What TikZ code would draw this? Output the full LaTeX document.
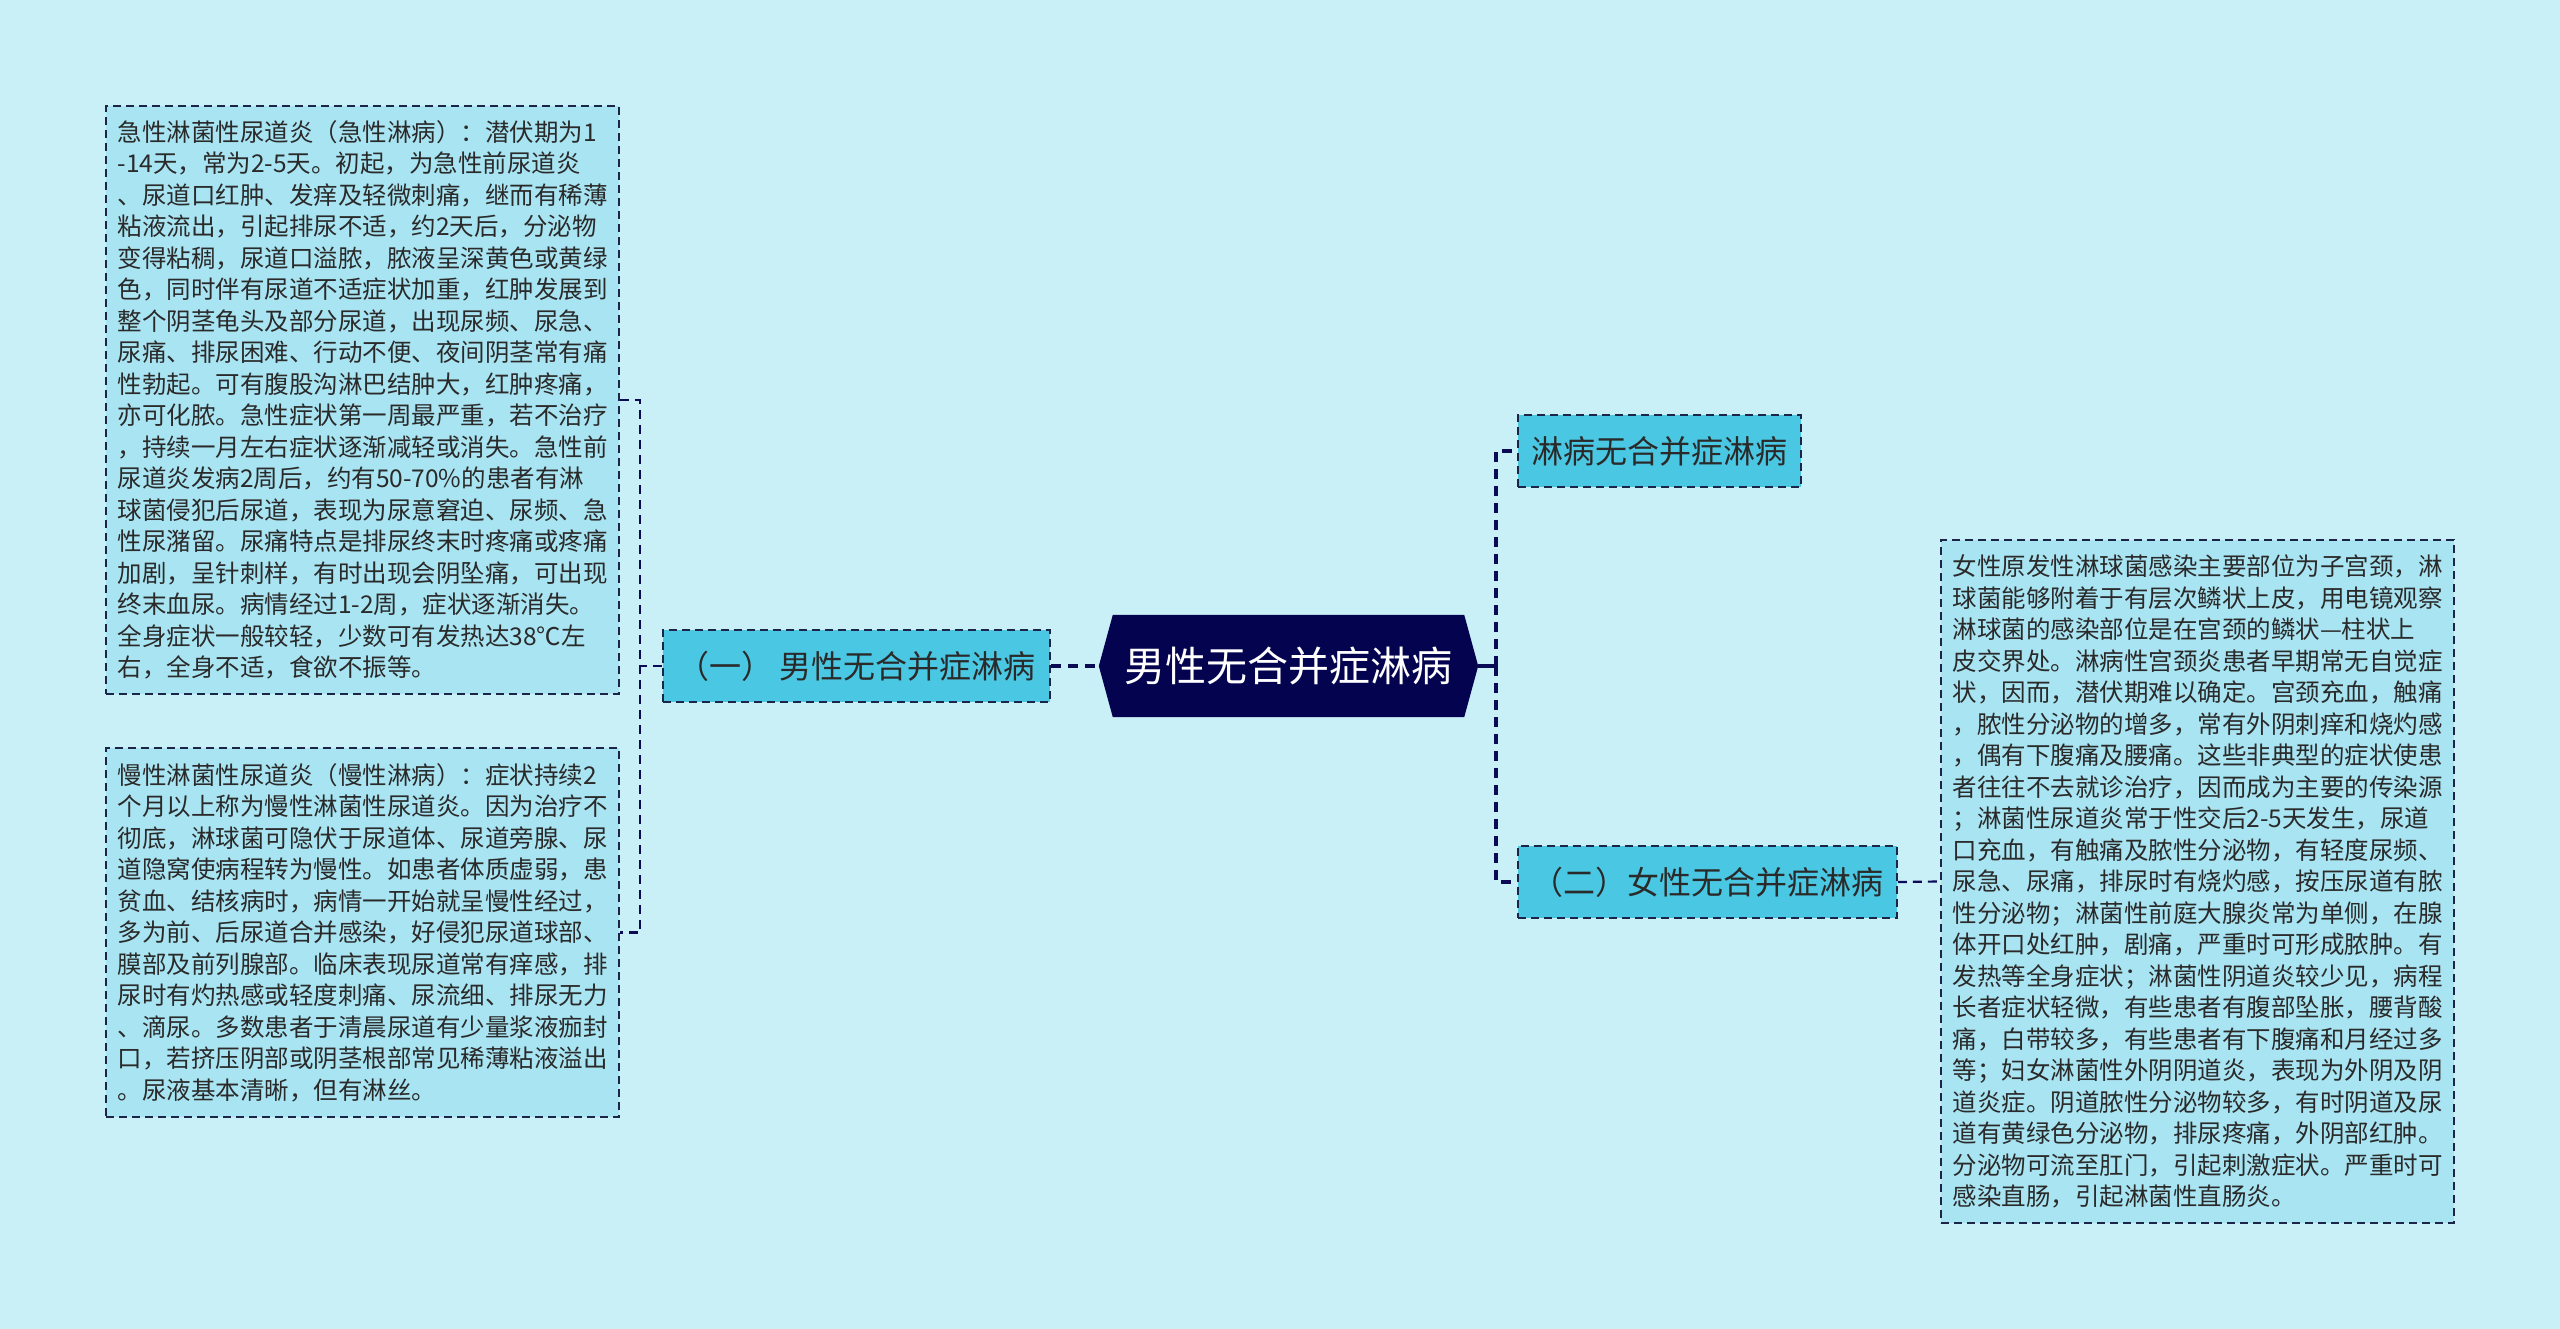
\documentclass[tikz,border=0pt]{standalone}
\usepackage{fontspec}
\setmainfont{Noto Sans CJK SC}
\usetikzlibrary{calc}
\pgfdeclarelayer{bg}
\pgfsetlayers{bg,main}
\definecolor{bgc}{HTML}{C9EFF7}
\definecolor{boxfill}{HTML}{A9E4F2}
\definecolor{nodefill}{HTML}{4AC8E3}
\definecolor{navy}{HTML}{03034F}
\definecolor{edgec}{HTML}{0B0B55}
\definecolor{bordc}{HTML}{1A2548}
\definecolor{txt}{HTML}{2A2A2A}
\tikzset{
  textbox/.style={draw=bordc, fill=boxfill, line width=1.8pt, dash pattern=on 8pt off 5pt,
    text width=490pt, inner xsep=11.5pt, inner ysep=0pt, align=left,
    font=\fontsize{24.5pt}{31.5pt}\selectfont, text=txt, minimum width=513pt},
  branch/.style={draw=bordc, fill=nodefill, line width=1.8pt, dash pattern=on 8pt off 5pt,
    inner sep=0pt, font=\fontsize{32pt}{38pt}\selectfont, text=txt, minimum height=72pt},
  rootnode/.style={inner sep=0pt, text=white, font=\fontsize{41pt}{48pt}\selectfont,
    minimum width=379pt, minimum height=102pt},
  link/.style={draw=edgec, line width=2.2pt, dash pattern=on 9pt off 6pt},
  thicklink/.style={draw=edgec, line width=3.2pt, dash pattern=on 10pt off 7pt},
  solidlink/.style={draw=edgec, line width=3.2pt},
}
\begin{document}
\begin{tikzpicture}[x=1pt,y=-1pt]
\begin{pgfonlayer}{bg}
\fill[bgc] (0,0) rectangle (2560,1329);
\end{pgfonlayer}
\useasboundingbox (0,0) rectangle (2560,1329);

\node[textbox, minimum height=588pt] (box1) at (362.5,400) {%
急性淋菌性尿道炎（急性淋病）：潜伏期为1\\
-14天，常为2-5天。初起，为急性前尿道炎\\
、尿道口红肿、发痒及轻微刺痛，继而有稀薄\\
粘液流出，引起排尿不适，约2天后，分泌物\\
变得粘稠，尿道口溢脓，脓液呈深黄色或黄绿\\
色，同时伴有尿道不适症状加重，红肿发展到\\
整个阴茎龟头及部分尿道，出现尿频、尿急、\\
尿痛、排尿困难、行动不便、夜间阴茎常有痛\\
性勃起。可有腹股沟淋巴结肿大，红肿疼痛，\\
亦可化脓。急性症状第一周最严重，若不治疗\\
，持续一月左右症状逐渐减轻或消失。急性前\\
尿道炎发病2周后，约有50-70\%的患者有淋\\
球菌侵犯后尿道，表现为尿意窘迫、尿频、急\\
性尿潴留。尿痛特点是排尿终末时疼痛或疼痛\\
加剧，呈针刺样，有时出现会阴坠痛，可出现\\
终末血尿。病情经过1-2周，症状逐渐消失。\\
全身症状一般较轻，少数可有发热达38℃左\\
右，全身不适，食欲不振等。};

\node[textbox, minimum height=369pt] (box2) at (362.5,932.5) {%
慢性淋菌性尿道炎（慢性淋病）：症状持续2\\
个月以上称为慢性淋菌性尿道炎。因为治疗不\\
彻底，淋球菌可隐伏于尿道体、尿道旁腺、尿\\
道隐窝使病程转为慢性。如患者体质虚弱，患\\
贫血、结核病时，病情一开始就呈慢性经过，\\
多为前、后尿道合并感染，好侵犯尿道球部、\\
膜部及前列腺部。临床表现尿道常有痒感，排\\
尿时有灼热感或轻度刺痛、尿流细、排尿无力\\
、滴尿。多数患者于清晨尿道有少量浆液痂封\\
口，若挤压阴部或阴茎根部常见稀薄粘液溢出\\
。尿液基本清晰，但有淋丝。};

\node[branch, minimum width=387pt] (male) at (856.5,666) {（一）\hspace{6pt}男性无合并症淋病};
\node[rootnode] (root) at (1288.5,666) {男性无合并症淋病};
\node[branch, minimum width=283pt] (n1) at (1659.5,451) {淋病无合并症淋病};
\node[branch, minimum width=379pt] (n2) at (1707.5,882) {（二）女性无合并症淋病};

\node[textbox, minimum height=683pt] (box3) at (2197.5,881.5) {%
女性原发性淋球菌感染主要部位为子宫颈，淋\\
球菌能够附着于有层次鳞状上皮，用电镜观察\\
淋球菌的感染部位是在宫颈的鳞状—柱状上\\
皮交界处。淋病性宫颈炎患者早期常无自觉症\\
状，因而，潜伏期难以确定。宫颈充血，触痛\\
，脓性分泌物的增多，常有外阴刺痒和烧灼感\\
，偶有下腹痛及腰痛。这些非典型的症状使患\\
者往往不去就诊治疗，因而成为主要的传染源\\
；淋菌性尿道炎常于性交后2-5天发生，尿道\\
口充血，有触痛及脓性分泌物，有轻度尿频、\\
尿急、尿痛，排尿时有烧灼感，按压尿道有脓\\
性分泌物；淋菌性前庭大腺炎常为单侧，在腺\\
体开口处红肿，剧痛，严重时可形成脓肿。有\\
发热等全身症状；淋菌性阴道炎较少见，病程\\
长者症状轻微，有些患者有腹部坠胀，腰背酸\\
痛，白带较多，有些患者有下腹痛和月经过多\\
等；妇女淋菌性外阴阴道炎，表现为外阴及阴\\
道炎症。阴道脓性分泌物较多，有时阴道及尿\\
道有黄绿色分泌物，排尿疼痛，外阴部红肿。\\
分泌物可流至肛门，引起刺激症状。严重时可\\
感染直肠，引起淋菌性直肠炎。};

\begin{pgfonlayer}{bg}
\fill[navy] ([xshift=14pt]root.north west) -- ([xshift=-14pt]root.north east) -- (root.east)
  -- ([xshift=-14pt]root.south east) -- ([xshift=14pt]root.south west) -- (root.west) -- cycle;
\end{pgfonlayer}

\coordinate (lx) at (640,666);
\coordinate (rx) at (1496,666);

\draw[link] (box1.east) -| (lx) |- (box2.east);
\draw[link] (male.west) -- (lx);
\draw[thicklink] (male.east) -- (root.west);
\draw[solidlink] (root.east) -- (rx);
\draw[thicklink] (rx) |- (n1.west);
\draw[thicklink] (rx) |- (n2.west);
\draw[link] (n2.east) -- (box3.west);
\end{tikzpicture}
\end{document}
